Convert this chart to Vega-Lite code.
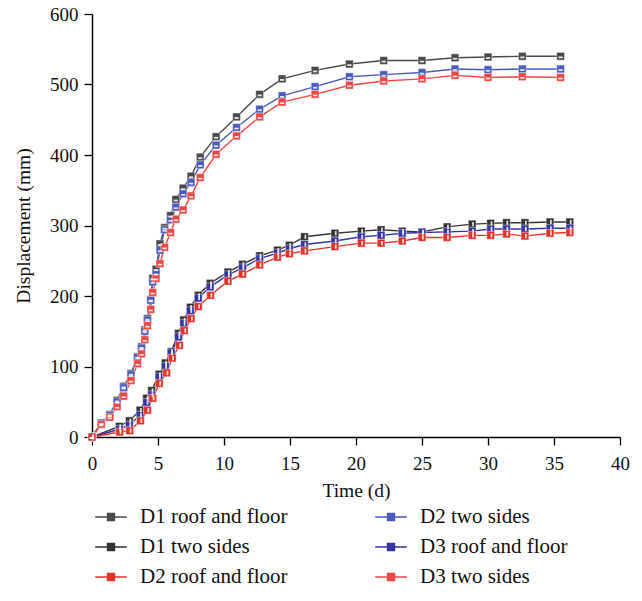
{
  "$schema": "https://vega.github.io/schema/vega-lite/v6.json",
  "autosize": "none",
  "width": 528,
  "height": 423,
  "padding": {"left": 92, "top": 14, "right": 22, "bottom": 164},
  "background": "white",
  "config": {
    "view": {"stroke": null},
    "font": "Liberation Serif",
    "axis": {
      "labelFont": "Liberation Serif", "titleFont": "Liberation Serif",
      "labelFontSize": 19, "titleFontSize": 19.5, "titleFontWeight": "normal",
      "labelColor": "#111", "titleColor": "#111",
      "domainColor": "#000", "domainWidth": 1.5, "tickColor": "#000", "tickWidth": 1.3,
      "tickSize": 8, "grid": false
    }
  },
  "data": {"values": [
    {"s":"D1 roof and floor","t":0,"d":0},{"s":"D1 roof and floor","t":0.7,"d":20},{"s":"D1 roof and floor","t":1.35,"d":32},{"s":"D1 roof and floor","t":1.9,"d":52},{"s":"D1 roof and floor","t":2.4,"d":72},{"s":"D1 roof and floor","t":2.95,"d":90},{"s":"D1 roof and floor","t":3.45,"d":114},{"s":"D1 roof and floor","t":3.75,"d":128},{"s":"D1 roof and floor","t":4.0,"d":152},{"s":"D1 roof and floor","t":4.2,"d":168},{"s":"D1 roof and floor","t":4.45,"d":195},{"s":"D1 roof and floor","t":4.6,"d":225},{"s":"D1 roof and floor","t":4.85,"d":238},{"s":"D1 roof and floor","t":5.15,"d":274},{"s":"D1 roof and floor","t":5.5,"d":297},{"s":"D1 roof and floor","t":5.95,"d":314},{"s":"D1 roof and floor","t":6.35,"d":337},{"s":"D1 roof and floor","t":6.9,"d":353},{"s":"D1 roof and floor","t":7.5,"d":370},{"s":"D1 roof and floor","t":8.2,"d":397},{"s":"D1 roof and floor","t":9.4,"d":426},{"s":"D1 roof and floor","t":10.95,"d":454},{"s":"D1 roof and floor","t":12.7,"d":486},{"s":"D1 roof and floor","t":14.4,"d":508},{"s":"D1 roof and floor","t":16.9,"d":520},{"s":"D1 roof and floor","t":19.5,"d":529},{"s":"D1 roof and floor","t":22.1,"d":534},{"s":"D1 roof and floor","t":25,"d":534},{"s":"D1 roof and floor","t":27.5,"d":538},{"s":"D1 roof and floor","t":30,"d":539},{"s":"D1 roof and floor","t":32.6,"d":540},{"s":"D1 roof and floor","t":35.5,"d":540},
    {"s":"D2 two sides","t":0,"d":0},{"s":"D2 two sides","t":0.7,"d":20},{"s":"D2 two sides","t":1.35,"d":31},{"s":"D2 two sides","t":1.9,"d":50},{"s":"D2 two sides","t":2.4,"d":70},{"s":"D2 two sides","t":2.95,"d":88},{"s":"D2 two sides","t":3.45,"d":113},{"s":"D2 two sides","t":3.75,"d":126},{"s":"D2 two sides","t":4.0,"d":150},{"s":"D2 two sides","t":4.2,"d":166},{"s":"D2 two sides","t":4.45,"d":194},{"s":"D2 two sides","t":4.6,"d":220},{"s":"D2 two sides","t":4.85,"d":232},{"s":"D2 two sides","t":5.15,"d":265},{"s":"D2 two sides","t":5.5,"d":294},{"s":"D2 two sides","t":5.95,"d":308},{"s":"D2 two sides","t":6.35,"d":326},{"s":"D2 two sides","t":6.9,"d":345},{"s":"D2 two sides","t":7.5,"d":361},{"s":"D2 two sides","t":8.2,"d":386},{"s":"D2 two sides","t":9.4,"d":414},{"s":"D2 two sides","t":10.95,"d":439},{"s":"D2 two sides","t":12.7,"d":465},{"s":"D2 two sides","t":14.4,"d":484},{"s":"D2 two sides","t":16.9,"d":497},{"s":"D2 two sides","t":19.5,"d":511},{"s":"D2 two sides","t":22.1,"d":514},{"s":"D2 two sides","t":25,"d":517},{"s":"D2 two sides","t":27.5,"d":522},{"s":"D2 two sides","t":30,"d":521},{"s":"D2 two sides","t":32.6,"d":522},{"s":"D2 two sides","t":35.5,"d":522},
    {"s":"D3 two sides","t":0,"d":0},{"s":"D3 two sides","t":0.7,"d":18},{"s":"D3 two sides","t":1.35,"d":28},{"s":"D3 two sides","t":1.9,"d":43},{"s":"D3 two sides","t":2.4,"d":58},{"s":"D3 two sides","t":2.95,"d":80},{"s":"D3 two sides","t":3.45,"d":104},{"s":"D3 two sides","t":3.75,"d":118},{"s":"D3 two sides","t":4.0,"d":138},{"s":"D3 two sides","t":4.2,"d":158},{"s":"D3 two sides","t":4.45,"d":181},{"s":"D3 two sides","t":4.6,"d":205},{"s":"D3 two sides","t":4.85,"d":225},{"s":"D3 two sides","t":5.15,"d":246},{"s":"D3 two sides","t":5.5,"d":269},{"s":"D3 two sides","t":5.95,"d":290},{"s":"D3 two sides","t":6.35,"d":309},{"s":"D3 two sides","t":6.9,"d":322},{"s":"D3 two sides","t":7.5,"d":342},{"s":"D3 two sides","t":8.2,"d":368},{"s":"D3 two sides","t":9.4,"d":401},{"s":"D3 two sides","t":10.95,"d":427},{"s":"D3 two sides","t":12.7,"d":454},{"s":"D3 two sides","t":14.4,"d":475},{"s":"D3 two sides","t":16.9,"d":486},{"s":"D3 two sides","t":19.5,"d":499},{"s":"D3 two sides","t":22.1,"d":505},{"s":"D3 two sides","t":25,"d":508},{"s":"D3 two sides","t":27.5,"d":513},{"s":"D3 two sides","t":30,"d":510},{"s":"D3 two sides","t":32.6,"d":511},{"s":"D3 two sides","t":35.5,"d":510},
    {"s":"D1 two sides","t":0,"d":0},{"s":"D1 two sides","t":2.07,"d":15},{"s":"D1 two sides","t":2.83,"d":23},{"s":"D1 two sides","t":3.64,"d":38},{"s":"D1 two sides","t":4.14,"d":55},{"s":"D1 two sides","t":4.52,"d":66},{"s":"D1 two sides","t":5.08,"d":89},{"s":"D1 two sides","t":5.55,"d":105},{"s":"D1 two sides","t":6.0,"d":121},{"s":"D1 two sides","t":6.55,"d":147},{"s":"D1 two sides","t":6.95,"d":166},{"s":"D1 two sides","t":7.45,"d":184},{"s":"D1 two sides","t":8.05,"d":201},{"s":"D1 two sides","t":8.95,"d":218},{"s":"D1 two sides","t":10.3,"d":234},{"s":"D1 two sides","t":11.4,"d":245},{"s":"D1 two sides","t":12.7,"d":257},{"s":"D1 two sides","t":14.05,"d":265},{"s":"D1 two sides","t":14.95,"d":272},{"s":"D1 two sides","t":16.1,"d":284},{"s":"D1 two sides","t":18.4,"d":289},{"s":"D1 two sides","t":20.4,"d":292},{"s":"D1 two sides","t":21.9,"d":294},{"s":"D1 two sides","t":23.5,"d":292},{"s":"D1 two sides","t":25,"d":291},{"s":"D1 two sides","t":26.9,"d":298},{"s":"D1 two sides","t":28.8,"d":302},{"s":"D1 two sides","t":30.2,"d":303},{"s":"D1 two sides","t":31.4,"d":304},{"s":"D1 two sides","t":32.8,"d":304},{"s":"D1 two sides","t":34.7,"d":305},{"s":"D1 two sides","t":36.2,"d":305},
    {"s":"D3 roof and floor","t":0,"d":0},{"s":"D3 roof and floor","t":2.07,"d":11},{"s":"D3 roof and floor","t":2.83,"d":17},{"s":"D3 roof and floor","t":3.64,"d":31},{"s":"D3 roof and floor","t":4.14,"d":49},{"s":"D3 roof and floor","t":4.52,"d":60},{"s":"D3 roof and floor","t":5.08,"d":85},{"s":"D3 roof and floor","t":5.55,"d":100},{"s":"D3 roof and floor","t":6.0,"d":119},{"s":"D3 roof and floor","t":6.55,"d":142},{"s":"D3 roof and floor","t":6.95,"d":161},{"s":"D3 roof and floor","t":7.45,"d":179},{"s":"D3 roof and floor","t":8.05,"d":197},{"s":"D3 roof and floor","t":8.95,"d":213},{"s":"D3 roof and floor","t":10.3,"d":230},{"s":"D3 roof and floor","t":11.4,"d":240},{"s":"D3 roof and floor","t":12.7,"d":253},{"s":"D3 roof and floor","t":14.05,"d":261},{"s":"D3 roof and floor","t":14.95,"d":267},{"s":"D3 roof and floor","t":16.1,"d":273},{"s":"D3 roof and floor","t":18.4,"d":278},{"s":"D3 roof and floor","t":20.4,"d":284},{"s":"D3 roof and floor","t":21.9,"d":286},{"s":"D3 roof and floor","t":23.5,"d":289},{"s":"D3 roof and floor","t":25,"d":290},{"s":"D3 roof and floor","t":26.9,"d":291},{"s":"D3 roof and floor","t":28.8,"d":292},{"s":"D3 roof and floor","t":30.2,"d":295},{"s":"D3 roof and floor","t":31.4,"d":295},{"s":"D3 roof and floor","t":32.8,"d":295},{"s":"D3 roof and floor","t":34.7,"d":296},{"s":"D3 roof and floor","t":36.2,"d":296},
    {"s":"D2 roof and floor","t":0,"d":0},{"s":"D2 roof and floor","t":2.1,"d":7},{"s":"D2 roof and floor","t":2.86,"d":9},{"s":"D2 roof and floor","t":3.67,"d":23},{"s":"D2 roof and floor","t":4.2,"d":38},{"s":"D2 roof and floor","t":4.6,"d":55},{"s":"D2 roof and floor","t":5.1,"d":76},{"s":"D2 roof and floor","t":5.65,"d":91},{"s":"D2 roof and floor","t":6.08,"d":112},{"s":"D2 roof and floor","t":6.62,"d":130},{"s":"D2 roof and floor","t":7.0,"d":151},{"s":"D2 roof and floor","t":7.5,"d":168},{"s":"D2 roof and floor","t":8.05,"d":185},{"s":"D2 roof and floor","t":8.98,"d":201},{"s":"D2 roof and floor","t":10.3,"d":221},{"s":"D2 roof and floor","t":11.4,"d":231},{"s":"D2 roof and floor","t":12.7,"d":244},{"s":"D2 roof and floor","t":14.05,"d":255},{"s":"D2 roof and floor","t":14.95,"d":260},{"s":"D2 roof and floor","t":16.1,"d":264},{"s":"D2 roof and floor","t":18.4,"d":270},{"s":"D2 roof and floor","t":20.4,"d":275},{"s":"D2 roof and floor","t":21.9,"d":275},{"s":"D2 roof and floor","t":23.5,"d":278},{"s":"D2 roof and floor","t":25,"d":283},{"s":"D2 roof and floor","t":26.9,"d":283},{"s":"D2 roof and floor","t":28.8,"d":286},{"s":"D2 roof and floor","t":30.2,"d":286},{"s":"D2 roof and floor","t":31.4,"d":288},{"s":"D2 roof and floor","t":32.8,"d":285},{"s":"D2 roof and floor","t":34.7,"d":289},{"s":"D2 roof and floor","t":36.2,"d":290}
  ]},
  "encoding": {
    "x": {"field": "t", "type": "quantitative",
      "scale": {"domain": [0, 40], "nice": false},
      "axis": {"title": "Time (d)", "values": [0,5,10,15,20,25,30,35,40], "titlePadding": 8, "labelPadding": 9, "labelFlush": false}},
    "y": {"field": "d", "type": "quantitative",
      "scale": {"domain": [0, 600], "nice": false},
      "axis": {"title": "Displacement (mm)", "values": [0,100,200,300,400,500,600], "titlePadding": 16, "labelPadding": 6}}
  },
  "layer": [
    {
      "mark": {"type": "rule", "color": "#000", "strokeWidth": 1.2},
      "data": {"values": [{"v":2.5},{"v":7.5},{"v":12.5},{"v":17.5},{"v":22.5},{"v":27.5},{"v":32.5},{"v":37.5}]},
      "encoding": {"x": {"field": "v", "type": "quantitative"}, "y": {"datum": 0}, "y2": {"datum": -6}}
    },
    {
      "mark": {"type": "rule", "color": "#000", "strokeWidth": 1.2},
      "data": {"values": [{"v":50},{"v":150},{"v":250},{"v":350},{"v":450},{"v":550}]},
      "encoding": {"y": {"field": "v", "type": "quantitative"}, "x": {"datum": 0}, "x2": {"datum": -0.33}}
    },
    {
      "mark": {"type": "line", "strokeWidth": 1.4, "clip": false},
      "encoding": {
        "color": {"field": "s", "type": "nominal",
          "scale": {
            "domain": ["D1 roof and floor","D1 two sides","D2 roof and floor","D2 two sides","D3 roof and floor","D3 two sides"],
            "range": ["#4a4a4a","#333333","#e3322b","#4b5abf","#3434a3","#ee4646"]},
          "legend": {
            "orient": "none", "legendX": 2, "legendY": 486, "columns": 2, "direction": "vertical", "title": null,
            "symbolType": "M-1,0H1M-0.22,-0.22H0.22V0.22H-0.22Z",
            "symbolSize": 1000, "symbolStrokeWidth": 1.4,
            "labelFont": "Liberation Serif", "labelFontSize": 21, "labelColor": "#111",
            "labelOffset": 12, "rowPadding": 3, "columnPadding": 84, "labelLimit": 300
          }
        }
      }
    },
    {
      "mark": {"type": "point", "shape": "square", "filled": true, "size": 60, "opacity": 1, "stroke": "#ffffff", "strokeWidth": 0.4},
      "encoding": {"color": {"field": "s", "type": "nominal", "legend": null}}
    },
    {
      "transform": [{"filter": {"field": "s", "oneOf": ["D1 roof and floor","D2 two sides","D3 two sides"]}}],
      "mark": {"type": "point", "shape": "M-0.55,0.05H0.55V0.5H-0.55Z", "filled": true, "color": "#ffffff", "size": 60, "opacity": 0.85},
      "encoding": {}
    },
    {
      "transform": [{"filter": {"field": "s", "oneOf": ["D1 two sides","D3 roof and floor","D2 roof and floor"]}}],
      "mark": {"type": "point", "shape": "M0.0,-0.55H0.45V0.55H0.0Z", "filled": true, "color": "#ffffff", "size": 60, "opacity": 0.85},
      "encoding": {}
    }
  ]
}
